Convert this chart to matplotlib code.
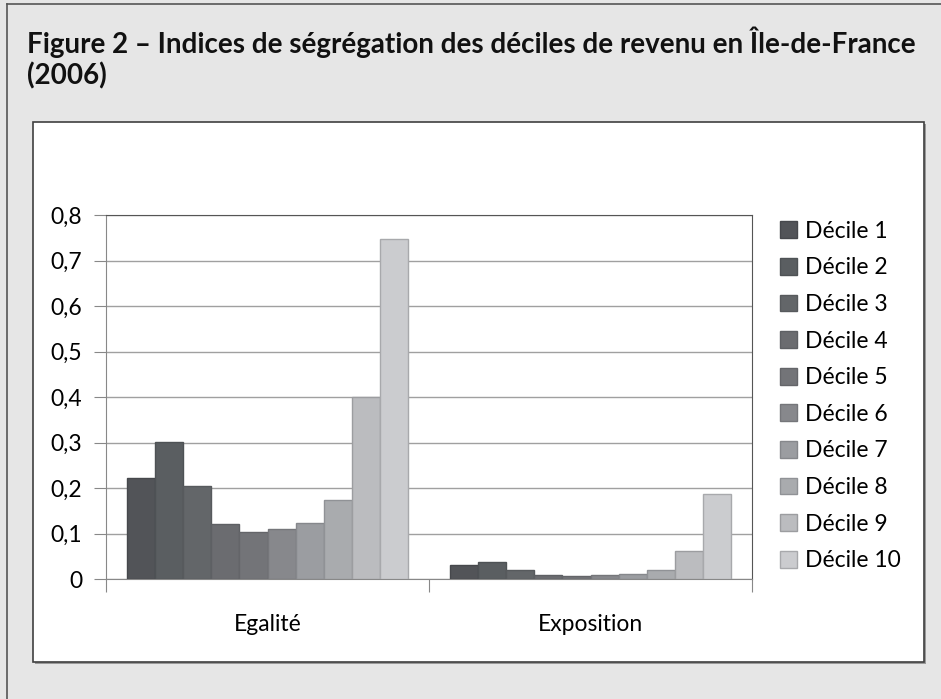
import matplotlib
matplotlib.use("Agg")
import matplotlib.pyplot as plt
from matplotlib.patches import Rectangle
from matplotlib.lines import Line2D
import numpy as np

# ── data ────────────────────────────────────────────────────────────────────
categories = ["Egalité", "Exposition"]
deciles = [f"Décile {i}" for i in range(1, 11)]
egalite = [0.223, 0.302, 0.204, 0.122, 0.104, 0.110, 0.124, 0.174, 0.401, 0.747]
exposition = [0.031, 0.037, 0.020, 0.009, 0.0065, 0.009, 0.012, 0.020, 0.062, 0.187]
yticks = [0, 0.1, 0.2, 0.3, 0.4, 0.5, 0.6, 0.7, 0.8]
ytick_labels = ["0", "0,1", "0,2", "0,3", "0,4", "0,5", "0,6", "0,7", "0,8"]
title = "Figure 2 – Indices de ségrégation des déciles de revenu en Île-de-France\n(2006)"

# ── style ───────────────────────────────────────────────────────────────────
colors = ["#525458", "#5a5e61", "#636669", "#6b6c70", "#737478",
          "#87888c", "#9b9da1", "#a9abae", "#bbbcbf", "#cbcccf"]
edges = ["#46484c", "#4e5255", "#575a5d", "#5e6064", "#646569",
         "#75767a", "#86888c", "#909296", "#9c9da0", "#a8a9ac"]
plt.rcParams["font.family"] = ["Lato", "DejaVu Sans"]
FS = 16.5

W, H = 941, 699
fig = plt.figure(figsize=(W / 100, H / 100), dpi=100)
fig.patch.set_facecolor("#e6e6e6")

def fx(px):
    return px / W

def fy(py):
    return 1 - py / H

# outer frame (top + left lines)
fig.add_artist(Line2D([fx(7), 1], [fy(4), fy(4)], color="#555555", lw=1.2))
fig.add_artist(Line2D([fx(7), fx(7)], [fy(4), 0], color="#555555", lw=1.2))

# inner white box with shadow
fig.add_artist(Rectangle((fx(35), fy(664)), fx(924 - 33), (662 - 122) / H,
                         facecolor="#9a9a9a", edgecolor="none", zorder=0))
fig.add_artist(Rectangle((fx(33), fy(662)), fx(924 - 33), (662 - 122) / H,
                         facecolor="white", edgecolor="#404040", lw=1.2, zorder=0.5))

fig.text(fx(27), fy(27), title, ha="left", va="top", fontsize=20,
         fontweight="bold", color="#111111", linespacing=1.15)

# ── axes ────────────────────────────────────────────────────────────────────
ax = fig.add_axes([fx(106), fy(579.3), fx(752 - 106), (579.3 - 215) / H])
ax.set_facecolor("white")
ax.set_zorder(2)

n = len(deciles)
width = 0.87 / n
x = np.arange(len(categories))
for i in range(n):
    vals = [egalite[i], exposition[i]]
    pos = x - 0.435 + width * (i + 0.5)
    ax.bar(pos, vals, width, color=colors[i], edgecolor=edges[i],
           linewidth=1.0, label=deciles[i], zorder=3)

ax.set_xlim(-0.5, 1.5)
ax.set_ylim(0, 0.8)
ax.set_yticks(yticks)
ax.set_yticklabels(ytick_labels, fontsize=FS)
ax.yaxis.grid(True, color="#a0a0a0", lw=1.0, zorder=0)
ax.set_axisbelow(True)

ax.set_xticks([-0.5, 0.5, 1.5])
ax.set_xticklabels([])
ax.tick_params(axis="x", length=9, width=0.8, color="#888888")
ax.tick_params(axis="y", length=9, width=0.8, color="#888888", pad=8)
for c, xc in zip(categories, x):
    ax.text(xc, -0.1, c, ha="center", va="center", fontsize=FS,
            transform=ax.transData)

for s in ["left", "bottom"]:
    ax.spines[s].set_color("#888888")
for s in ["top", "right"]:
    ax.spines[s].set_color("#555555")

leg = ax.legend(loc="center left",
                bbox_to_anchor=((780 - 106) / (752 - 106), (579.3 - 396) / (579.3 - 215)),
                frameon=False, fontsize=FS, handlelength=0.75, handleheight=0.75,
                handletextpad=0.36, labelspacing=0.68, borderaxespad=0, borderpad=0)

fig.savefig("out.png", dpi=100, facecolor=fig.get_facecolor())
